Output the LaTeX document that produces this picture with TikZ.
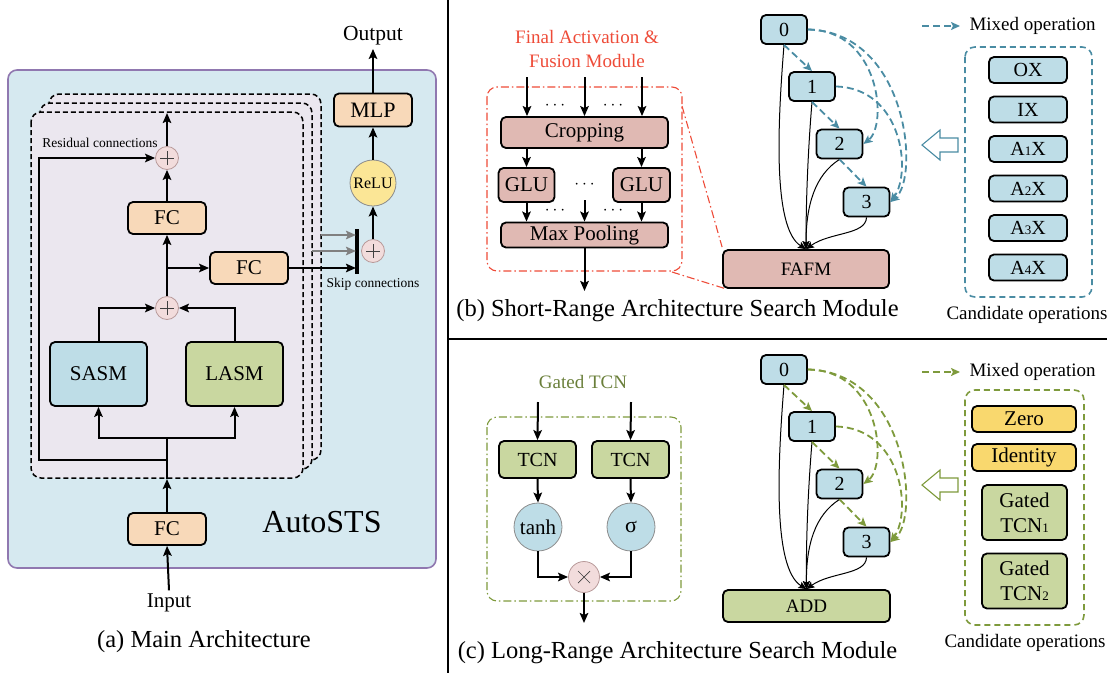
\documentclass[tikz,border=0pt]{standalone}
\usepackage{fontspec}
\setmainfont{Liberation Serif}
\usetikzlibrary{arrows.meta,calc}
\definecolor{bgblue}{HTML}{D6E9F0}
\definecolor{purpleb}{HTML}{9078B0}
\definecolor{lav}{HTML}{EBE7EF}
\definecolor{peach}{HTML}{F8D9B9}
\definecolor{sasmc}{HTML}{BEDDE7}
\definecolor{lasmc}{HTML}{C9D7A0}
\definecolor{pinkc}{HTML}{F2DCDC}
\definecolor{pinkd}{HTML}{B89A9A}
\definecolor{yelc}{HTML}{FBE696}
\definecolor{cropc}{HTML}{E0B9B3}
\definecolor{tealc}{HTML}{4A8CA3}
\definecolor{greenc}{HTML}{7E9A3C}
\definecolor{greent}{HTML}{6A7F3A}
\definecolor{redc}{HTML}{EE4B38}
\definecolor{zeroc}{HTML}{F9D86E}
\newcommand\myfs[1]{\fontsize{#1}{#1}\selectfont}
\newcommand\sm[1]{{\myfs{13}#1}}
\tikzset{
  box/.style={draw, line width=1.8pt, rounded corners=5pt, inner sep=0pt, align=center, font=\myfs{21}},
  circ/.style={circle, draw=black!45, line width=0.8pt, inner sep=0pt},
  plusc/.style={circle, draw=pinkd, fill=pinkc, line width=0.8pt, minimum size=23pt, inner sep=0pt,
    path picture={\draw[black!75, line width=0.7pt]
      ([xshift=-7pt]path picture bounding box.center) -- ([xshift=7pt]path picture bounding box.center)
      ([yshift=-7pt]path picture bounding box.center) -- ([yshift=7pt]path picture bounding box.center);}},
  timesc/.style={circle, draw=pinkd, fill=pinkc, line width=0.8pt, minimum size=31pt, inner sep=0pt,
    path picture={\draw[black!75, line width=0.7pt]
      ([shift={(-6pt,-6pt)}]path picture bounding box.center) -- ([shift={(6pt,6pt)}]path picture bounding box.center)
      ([shift={(-6pt,6pt)}]path picture bounding box.center) -- ([shift={(6pt,-6pt)}]path picture bounding box.center);}},
  arr/.style={line width=2pt, -{Stealth[length=10pt,width=8.5pt,inset=2pt]}},
  thinarr/.style={line width=1pt, -{Stealth[length=8pt,width=7pt,inset=1.5pt]}},
  dagnode/.style={box, fill=sasmc, minimum width=46pt, minimum height=29pt, font=\myfs{20}},
  opbox/.style={box, fill=sasmc, minimum width=78pt, minimum height=26pt, font=\myfs{20}},
  tdash/.style={line width=1.8pt, dash pattern=on 7pt off 4pt, -{Stealth[length=9pt,width=8pt,inset=2pt]}},
  dashdot/.style={line width=1.1pt, dash pattern=on 8pt off 3pt on 1.5pt off 3pt},
}
\begin{document}
\begin{tikzpicture}[x=1pt,y=-1pt]
\useasboundingbox (0,0) rectangle (1114,673);

% ================= (a) =================
\draw[draw=purpleb, fill=bgblue, line width=1.6pt, rounded corners=9pt] (8,70) rectangle (436,568);
\foreach \k in {2,1,0}
  \draw[line width=1.5pt, dash pattern=on 5pt off 3pt, fill=lav, rounded corners=10pt]
    ({31+9*\k},{112-9*\k}) rectangle ({303+9*\k},{478-9*\k});

\node[box, fill=peach, minimum width=78pt, minimum height=32pt] (fc1) at (167,218) {FC};
\node[box, fill=peach, minimum width=78pt, minimum height=32pt] (fc2) at (249,268) {FC};
\node[box, fill=peach, minimum width=78pt, minimum height=32pt] (fc0) at (167,529) {FC};
\node[box, fill=sasmc, minimum width=97pt, minimum height=64pt] (sasm) at (98.5,374) {SASM};
\node[box, fill=lasmc, minimum width=97pt, minimum height=64pt] (lasm) at (234.5,374) {LASM};
\node[box, fill=peach, minimum width=78pt, minimum height=33pt, font=\myfs{22}] (mlp) at (373,110) {MLP};
\node[circ, fill=yelc, minimum size=46pt, font=\myfs{16}] (relu) at (373,183) {ReLU};
\node[plusc] (p1) at (167,158) {};
\node[plusc] (p2) at (167,308) {};
\node[plusc] (p3) at (373,251) {};
\node[font=\myfs{21.5}] (out) at (373,36) {Output};
\node[font=\myfs{21}] (in) at (169,603) {Input};
\node[font=\myfs{32}] (auto) at (322,522) {AutoSTS};
\node[font=\myfs{13.5}] (rc) at (100,143) {Residual connections};
\node[font=\myfs{13.5}] (sc) at (373,284) {Skip connections};
\node[font=\myfs{24.5}] (capa) at (204,642) {(a) Main Architecture};

\coordinate (topin) at (167,113);
\coordinate (brA) at (167,268);
\coordinate (split) at (167,438);
\coordinate (resB) at (167,460);
\coordinate (resBL) at (39,460);
\coordinate (resTL) at (39,158);
\coordinate (dbot) at (167,479);
\coordinate (barT) at (357,229);
\coordinate (barB) at (357,274);
\coordinate (g1s) at (321,235);
\coordinate (g1e) at (356,235);
\coordinate (g2s) at (312,251);
\coordinate (g2e) at (356,251);
\coordinate (fce) at (356,268);

\draw[arr] (p1.north) -- (topin);
\draw[arr] (fc1.north) -- (p1.south);
\draw[arr] (p2.north) -- (fc1.south);
\draw[arr] (brA) -- (fc2.west);
\draw[arr] (fc2.east) -- (fce);
\draw[line width=3.2pt] (barT) -- (barB);
\draw[arr, draw=black!45, color=black!50] (g1s) -- (g1e);
\draw[arr, draw=black!45, color=black!50] (g2s) -- (g2e);
\draw[arr] (p3.north) -- (relu.south);
\draw[arr] (relu.north) -- (mlp.south);
\draw[arr] (mlp.north) -- (out.south);
\draw[arr] (sasm.north) |- (p2.west);
\draw[arr] (lasm.north) |- (p2.east);
\draw[arr] (split) -| (sasm.south);
\draw[arr] (split) -| (lasm.south);
\draw[arr] (fc0.north) -- (dbot);
\draw[line width=2pt] (dbot) -- (split);
\draw[arr] (resB) -- (resBL) -- (resTL) -- (p1.west);
\draw[arr] (in.north) -- (fc0.south);

% dividers
\draw[line width=2.5pt] (448,0) -- (448,673);
\draw[line width=2pt] (448,339) -- (1107,339);

% ================= (b) =================
\node[font=\fontsize{19}{24}\selectfont, text=redc, align=center] (fat) at (587,49) {Final Activation \&\\Fusion Module};
\draw[redc, dashdot, rounded corners=10pt] (487,87) rectangle (682,271);
\node[box, fill=cropc, minimum width=167pt, minimum height=31pt] (crop) at (584.5,132.5) {Cropping};
\node[box, fill=cropc, minimum width=56pt, minimum height=34pt] (glu1) at (526.5,185) {GLU};
\node[box, fill=cropc, minimum width=57pt, minimum height=34pt] (glu2) at (641.5,185) {GLU};
\node[box, fill=cropc, minimum width=167pt, minimum height=25pt] (maxp) at (584.5,235) {Max Pooling};
\coordinate (ci1) at (527,77); \coordinate (ci2) at (584.5,77); \coordinate (ci3) at (642,77);
\draw[arr] (ci1) -- (ci1 |- crop.north);
\draw[arr] (ci2) -- (ci2 |- crop.north);
\draw[arr] (ci3) -- (ci3 |- crop.north);
\node[font=\myfs{16}] (d1) at (555,106) {$\cdots$};
\node[font=\myfs{16}] (d2) at (613,106) {$\cdots$};
\node[font=\myfs{16}] (d3) at (584.5,185) {$\cdots$};
\node[font=\myfs{16}] (d4) at (555,211) {$\cdots$};
\node[font=\myfs{16}] (d5) at (613,211) {$\cdots$};
\draw[arr] (crop.south -| glu1) -- (glu1.north);
\draw[arr] (crop.south -| glu2) -- (glu2.north);
\draw[arr] (glu1.south) -- (glu1.south |- maxp.north);
\draw[arr] (glu2.south) -- (glu2.south |- maxp.north);
\coordinate (mid) at (584.5,200);
\draw[arr] (mid) -- (maxp.north);
\coordinate (mpo) at (584.5,291);
\draw[arr] (maxp.south) -- (mpo);
\node[font=\myfs{24.5}] (capb) at (677.5,311) {(b) Short-Range Architecture Search Module};

\node[dagnode] (b0) at (784,29.5) {0};
\node[dagnode] (b1) at (812,86.5) {1};
\node[dagnode] (b2) at (839.5,144) {2};
\node[dagnode] (b3) at (866.5,202) {3};
\node[box, fill=cropc, minimum width=166pt, minimum height=38pt, font=\myfs{19}] (fafm) at (806,269) {FAFM};
\coordinate (rl1) at (682,106); \coordinate (rl2) at (672,272);
\draw[redc, dashdot] (rl1) -- ([shift={(0pt,2pt)}]fafm.north west);
\draw[redc, dashdot] (rl2) -- ([shift={(4pt,0pt)}]fafm.south west);

\draw[thinarr] (b0.south) .. controls (778,120) and (772,228) .. (fafm.north);
\draw[thinarr] (b1.south) .. controls (808,150) and (806,200) .. (fafm.north);
\draw[thinarr] (b2.south) .. controls (815,175) and (806,205) .. (fafm.north);
\draw[thinarr] (b3.south) .. controls (866,235) and (830,232) .. (fafm.north);

\begin{scope}[tealc]
\draw[tdash] (b0.south) -- (b1.north);
\draw[tdash] (b1.south) -- (b2.north);
\draw[tdash] (b2.south) -- (b3.north);
\draw[tdash] (b0.east) .. controls (880,30) and (888,125) .. (b2.east);
\draw[tdash] (b0.east) .. controls (908,32) and (920,178) .. (b3.east);
\draw[tdash] (b1.east) .. controls (902,88) and (912,172) .. (b3.east);
\coordinate (lb1) at (922,26); \coordinate (lb2) at (960,26);
\draw[tdash] (lb1) -- (lb2);
\draw[line width=1.6pt, dash pattern=on 6pt off 4pt, rounded corners=10pt] (965,47) rectangle (1092,297);
\draw[line width=1.1pt, fill=white] (922,145) -- (940,130) -- (940,138) -- (958,138) -- (958,152) -- (940,152) -- (940,160) -- cycle;
\end{scope}
\node[font=\myfs{19}, anchor=west] (mixb) at (966,26) {Mixed operation};
\node[opbox] (o1) at (1028,70) {OX};
\node[opbox] (o2) at (1028,109.5) {IX};
\node[opbox] (o3) at (1028,149) {A\sm{1}X};
\node[opbox] (o4) at (1028,188.5) {A\sm{2}X};
\node[opbox] (o5) at (1028,228) {A\sm{3}X};
\node[opbox] (o6) at (1028,267.5) {A\sm{4}X};
\node[font=\myfs{19}] (candb) at (1027,315) {Candidate operations};

% ================= (c) =================
\node[font=\myfs{19}, text=greent] (gtl) at (583,382) {Gated TCN};
\draw[greenc, dashdot, rounded corners=10pt] (487,417) rectangle (681,601);
\node[box, fill=lasmc, minimum width=77pt, minimum height=37pt, font=\myfs{20}] (t1) at (537.5,459.5) {TCN};
\node[box, fill=lasmc, minimum width=77pt, minimum height=37pt, font=\myfs{20}] (t2) at (630.5,459.5) {TCN};
\node[circ, fill=sasmc, minimum size=48pt, font=\myfs{21}] (tanh) at (538,527) {tanh};
\node[circ, fill=sasmc, minimum size=48pt, font=\myfs{22}] (sig) at (631,527) {σ};
\node[timesc] (tm) at (584,577) {};
\coordinate (ti1) at (538,402); \coordinate (ti2) at (631,402);
\draw[arr] (ti1) -- (t1.north);
\draw[arr] (ti2) -- (t2.north);
\draw[arr] (t1.south) -- (tanh.north);
\draw[arr] (t2.south) -- (sig.north);
\draw[arr] (tanh.south) |- (tm.west);
\draw[arr] (sig.south) |- (tm.east);
\coordinate (tmo) at (584,623);
\draw[arr] (tm.south) -- (tmo);
\node[font=\myfs{24.5}] (capc) at (677.5,653) {(c) Long-Range Architecture Search Module};

\node[dagnode] (c0) at (784,369.5) {0};
\node[dagnode] (c1) at (812,426.5) {1};
\node[dagnode] (c2) at (839.5,484) {2};
\node[dagnode] (c3) at (866.5,542) {3};
\node[box, fill=lasmc, minimum width=167pt, minimum height=32pt, font=\myfs{19}] (add) at (806.5,606) {ADD};
\draw[thinarr] (c0.south) .. controls (778,460) and (772,568) .. (add.north);
\draw[thinarr] (c1.south) .. controls (808,490) and (806,540) .. (add.north);
\draw[thinarr] (c2.south) .. controls (815,515) and (806,545) .. (add.north);
\draw[thinarr] (c3.south) .. controls (866,575) and (830,572) .. (add.north);
\begin{scope}[greenc]
\draw[tdash] (c0.south) -- (c1.north);
\draw[tdash] (c1.south) -- (c2.north);
\draw[tdash] (c2.south) -- (c3.north);
\draw[tdash] (c0.east) .. controls (880,370) and (888,465) .. (c2.east);
\draw[tdash] (c0.east) .. controls (908,372) and (920,518) .. (c3.east);
\draw[tdash] (c1.east) .. controls (902,428) and (912,512) .. (c3.east);
\coordinate (lc1) at (922,372); \coordinate (lc2) at (960,372);
\draw[tdash] (lc1) -- (lc2);
\draw[line width=1.6pt, dash pattern=on 6pt off 4pt, rounded corners=10pt] (965,390) rectangle (1084,625);
\draw[line width=1.1pt, fill=white] (922,485) -- (940,470) -- (940,478) -- (958,478) -- (958,492) -- (940,492) -- (940,500) -- cycle;
\end{scope}
\node[font=\myfs{19}, anchor=west] (mixc) at (966,372) {Mixed operation};
\node[box, fill=zeroc, minimum width=104pt, minimum height=26pt] (z) at (1024,419) {Zero};
\node[box, fill=zeroc, minimum width=104pt, minimum height=27pt] (idn) at (1024,457.5) {Identity};
\node[box, fill=lasmc, minimum width=85pt, minimum height=55pt, font=\fontsize{21}{25}\selectfont] (g1) at (1024.5,512.5) {Gated\\TCN\sm{1}};
\node[box, fill=lasmc, minimum width=85pt, minimum height=55pt, font=\fontsize{21}{25}\selectfont] (g2) at (1024.5,581) {Gated\\TCN\sm{2}};
\node[font=\myfs{19}] (candc) at (1025,643) {Candidate operations};
\end{tikzpicture}
\end{document}
